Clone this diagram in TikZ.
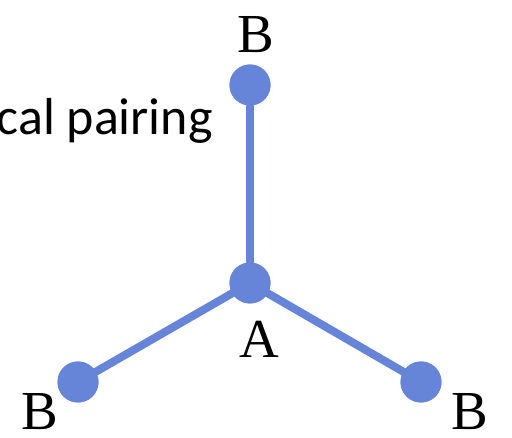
\documentclass[tikz,border=0pt]{standalone}
\usepackage{fontspec}
\setmainfont{Liberation Serif}
\newfontfamily\calib{Carlito}
\definecolor{dotblue}{RGB}{103,133,216}
\begin{document}
\begin{tikzpicture}[x=1pt,y=-1pt,
  dot/.style={circle,fill=dotblue,inner sep=0pt,minimum size=41pt},
  bond/.style={draw=dotblue,line width=8pt},
  lbl/.style={font=\fontsize{55}{55}\selectfont,inner sep=0pt}]
\useasboundingbox (0,0) rectangle (512,438);
\node[dot] (bt) at (250,85) {};
\node[dot] (a) at (250,283) {};
\node[dot] (bl) at (78,382) {};
\node[dot] (br) at (421,382) {};
\draw[bond] (a.center) -- (bt.center);
\draw[bond] (a.center) -- (bl.center);
\draw[bond] (a.center) -- (br.center);
\node[dot] at (a) {};
\node[dot] at (bt) {};
\node[dot] at (bl) {};
\node[dot] at (br) {};
\node[lbl,anchor=base] (lbt) at (256,53) {B};
\node[lbl,anchor=base] (la) at (259,358) {A};
\node[lbl,anchor=base] (lbl) at (40,430) {B};
\node[lbl,anchor=base] (lbr) at (470,430) {B};
\node[font=\calib\fontsize{52}{52}\selectfont,anchor=base east,inner sep=0pt] (txt) at (213,135) {cal pairing};
\end{tikzpicture}
\end{document}
